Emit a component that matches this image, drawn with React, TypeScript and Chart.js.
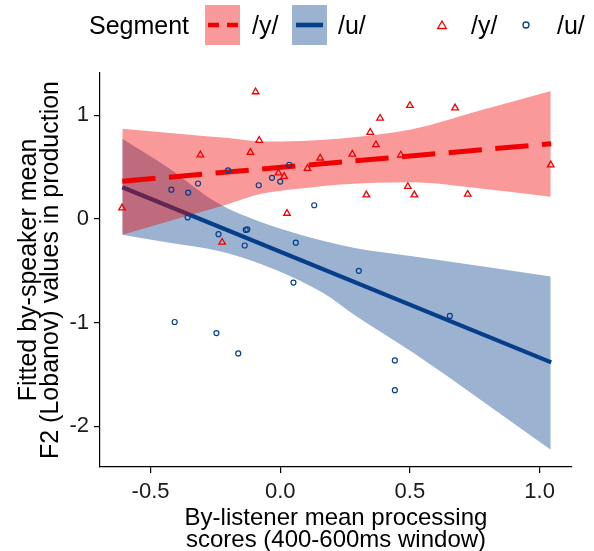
import React, { useEffect, useRef } from "react";
import { Chart, registerables } from "chart.js";

Chart.register(...registerables);

// ---- data ----
// /y/ speakers (triangles)
const yPointsX = [-0.095, -0.081, -0.308, -0.115, -0.007, 0.015, 0.105, 0.154, 0.278, -0.61, 0.026, -0.224, 0.5, 0.674, 0.385, 0.347, 0.369, 0.465, 1.043, 0.492, 0.332, 0.517, 0.723];
const yPointsY = [1.226, 0.758, 0.618, 0.642, 0.443, 0.41, 0.487, 0.587, 0.625, 0.106, 0.054, -0.225, 1.094, 1.071, 0.971, 0.835, 0.716, 0.616, 0.521, 0.313, 0.232, 0.232, 0.238];
// /u/ speakers (circles)
const uPointsX = [-0.42, -0.355, -0.317, -0.357, -0.238, -0.133, -0.127, -0.137, -0.201, -0.083, -0.032, 0.0, 0.035, 0.131, 0.06, 0.051, 0.303, 0.654, 0.442, 0.442, -0.407, -0.246, -0.162];
const uPointsY = [0.282, 0.253, 0.342, 0.015, -0.147, -0.106, -0.101, -0.256, 0.468, 0.325, 0.397, 0.361, 0.523, 0.132, -0.229, -0.614, -0.5, -0.936, -1.365, -1.652, -0.994, -1.101, -1.297];
// fitted lines
const yFitX = [-0.609, 1.045];
const yFitY = [0.364, 0.726];
const uFitX = [-0.609, 1.045];
const uFitY = [0.306, -1.384];
// confidence ribbons
const yRibbonX = [-0.609, -0.35, -0.2, -0.073, 0.08, 0.235, 0.504, 0.773, 1.043];
const yRibbonHi = [0.871, 0.813, 0.78, 0.748, 0.753, 0.777, 0.862, 1.048, 1.235];
const yRibbonLo = [-0.152, 0.035, 0.145, 0.242, 0.293, 0.332, 0.354, 0.293, 0.213];
const uRibbonX = [-0.609, -0.432, -0.24, -0.073, 0.164, 0.292, 0.523, 1.043];
const uRibbonHi = [0.774, 0.495, 0.151, -0.031, -0.21, -0.283, -0.365, -0.556];
const uRibbonLo = [-0.152, -0.227, -0.307, -0.436, -0.711, -0.936, -1.307, -2.227];
// ticks
const xTicks = [-0.5, 0, 0.5, 1.0];
const yTicks = [-2, -1, 0, 1];
const xTitle = ["By-listener mean processing", "scores (400-600ms window)"];
const yTitle = ["Fitted by-speaker mean", "F2 (Lobanov) values in production"];
const legendTitle = "Segment";
const segLabels = ["/y/", "/u/"];

const FONT = "'Liberation Sans', Arial, sans-serif";
const RED = "rgb(240,0,0)";
const RED_FILL = "rgba(240,0,0,0.4)";
const BLUE = "rgb(6,62,138)";
const BLUE_FILL = "rgba(16,72,142,0.42)";

const toXY = (xs: number[], ys: number[]) => xs.map((x, i) => ({ x, y: ys[i] }));

const legendPlugin = {
  id: "customLegend",
  afterDraw(chart: any) {
    const ctx = chart.ctx as CanvasRenderingContext2D;
    ctx.save();
    ctx.font = `25px ${FONT}`;
    ctx.fillStyle = "#000";
    ctx.textBaseline = "alphabetic";
    ctx.textAlign = "left";
    const base = 34;
    ctx.fillText(legendTitle, 89, base);
    // red key
    ctx.fillStyle = RED_FILL;
    ctx.fillRect(205, 5, 35, 40);
    ctx.strokeStyle = RED;
    ctx.lineWidth = 4.6;
    ctx.setLineDash([11, 8]);
    ctx.beginPath();
    ctx.moveTo(208, 25);
    ctx.lineTo(238, 25);
    ctx.stroke();
    ctx.setLineDash([]);
    ctx.fillStyle = "#000";
    ctx.fillText(segLabels[0], 252, base);
    // blue key
    ctx.fillStyle = BLUE_FILL;
    ctx.fillRect(292, 5, 35, 40);
    ctx.strokeStyle = BLUE;
    ctx.lineWidth = 4.6;
    ctx.beginPath();
    ctx.moveTo(296, 25);
    ctx.lineTo(323, 25);
    ctx.stroke();
    ctx.fillStyle = "#000";
    ctx.fillText(segLabels[1], 338, base);
    // point keys
    ctx.strokeStyle = RED;
    ctx.lineWidth = 1.3;
    const tx = 442, ty = 26, r = 5;
    ctx.beginPath();
    ctx.moveTo(tx, ty - r);
    ctx.lineTo(tx + r * 0.866, ty + r / 2);
    ctx.lineTo(tx - r * 0.866, ty + r / 2);
    ctx.closePath();
    ctx.stroke();
    ctx.fillText(segLabels[0], 471, base);
    ctx.strokeStyle = BLUE;
    ctx.beginPath();
    ctx.arc(526, 25, 3, 0, Math.PI * 2);
    ctx.stroke();
    ctx.fillText(segLabels[1], 557, base);
    ctx.restore();
  },
};

export default function App() {
  const ref = useRef<HTMLCanvasElement>(null);
  useEffect(() => {
    if (!ref.current) return;
    Chart.defaults.font.family = FONT;
    const noLine = "rgba(0,0,0,0)";
    const chart = new Chart(ref.current, {
      type: "line",
      data: {
        datasets: [
          { data: toXY(uRibbonX, uRibbonHi), borderColor: noLine, borderWidth: 0, pointRadius: 0, fill: 1, backgroundColor: BLUE_FILL, order: 10, cubicInterpolationMode: "monotone" } as any,
          { data: toXY(uRibbonX, uRibbonLo), borderColor: noLine, borderWidth: 0, pointRadius: 0, fill: false, order: 10, cubicInterpolationMode: "monotone" } as any,
          { data: toXY(uFitX, uFitY), borderColor: BLUE, borderWidth: 4.2, pointRadius: 0, fill: false, order: 9 } as any,
          { data: toXY(yRibbonX, yRibbonHi), borderColor: noLine, borderWidth: 0, pointRadius: 0, fill: 4, backgroundColor: RED_FILL, order: 8, cubicInterpolationMode: "monotone" } as any,
          { data: toXY(yRibbonX, yRibbonLo), borderColor: noLine, borderWidth: 0, pointRadius: 0, fill: false, order: 8, cubicInterpolationMode: "monotone" } as any,
          { data: toXY(yFitX, yFitY), borderColor: RED, borderWidth: 5, borderDash: [33.3, 13.5], borderCapStyle: "butt", pointRadius: 0, fill: false, order: 7 } as any,
          { data: toXY(yPointsX, yPointsY), showLine: false, pointStyle: "triangle", pointRadius: 3.8, pointBorderWidth: 1.3, pointBorderColor: RED, pointBackgroundColor: "rgba(0,0,0,0)", order: 1 } as any,
          { data: toXY(uPointsX, uPointsY), showLine: false, pointStyle: "circle", pointRadius: 2.5, pointBorderWidth: 1.2, pointBorderColor: BLUE, pointBackgroundColor: "rgba(0,0,0,0)", order: 1 } as any,
        ],
      },
      options: {
        animation: false,
        responsive: false,
        events: [],
        layout: { padding: { top: 73, right: 22, left: 0, bottom: 0 } },
        plugins: { legend: { display: false }, tooltip: { enabled: false } },
        scales: {
          x: {
            type: "linear",
            min: -0.695,
            max: 1.125,
            afterBuildTicks: (s: any) => { s.ticks = xTicks.map((v) => ({ value: v })); },
            afterFit: (s: any) => { s.height = 84; },
            ticks: { callback: (v: any) => Number(v).toFixed(1), font: { size: 22 }, color: "#1a1a1a", padding: 6, maxRotation: 0 },
            grid: { drawOnChartArea: false, drawTicks: true, tickLength: 6, color: "#000", lineWidth: 1.2 },
            border: { display: true, color: "#000", width: 1.2 },
            title: { display: true, text: xTitle, font: { size: 24, lineHeight: 0.9 }, color: "#000", padding: { top: 0, bottom: 0 } },
          },
          y: {
            type: "linear",
            min: -2.393,
            max: 1.408,
            afterBuildTicks: (s: any) => { s.ticks = yTicks.map((v) => ({ value: v })); },
            afterFit: (s: any) => { s.width = 100; },
            ticks: { callback: (v: any) => String(v), font: { size: 22 }, color: "#1a1a1a", padding: 5 },
            grid: { drawOnChartArea: false, drawTicks: true, tickLength: 6, color: "#000", lineWidth: 1.2 },
            border: { display: true, color: "#000", width: 1.2 },
            title: { display: true, text: yTitle, font: { size: 25, lineHeight: 0.9 }, color: "#000", padding: { top: 17.5, bottom: 0 } },
          },
        },
      } as any,
      plugins: [legendPlugin],
    });
    return () => chart.destroy();
  }, []);
  return (
    <div style={{ position: "fixed", left: 0, top: 0, width: 594, height: 551, background: "#fff" }}>
      <canvas ref={ref} width={594} height={551} style={{ width: 594, height: 551 }} />
    </div>
  );
}
